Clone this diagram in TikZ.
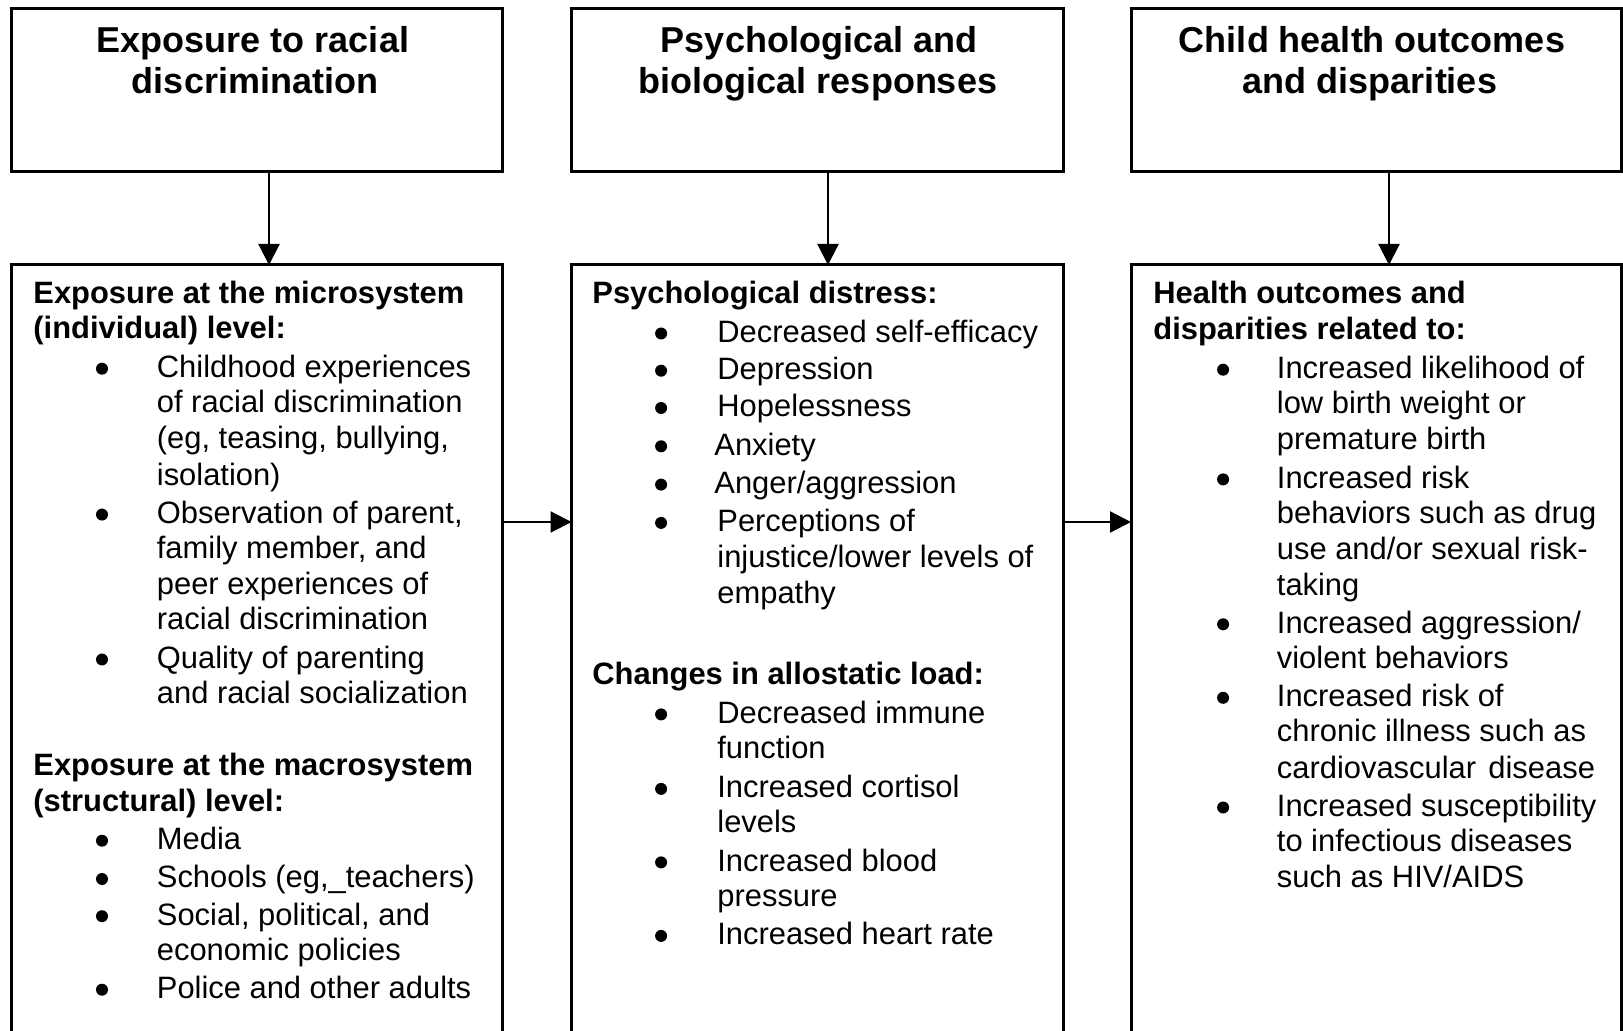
\documentclass[tikz,border=0pt]{standalone}
\usepackage{fontspec}
\setmainfont{Liberation Sans}
\usetikzlibrary{arrows.meta}
\begin{document}
\begin{tikzpicture}[x=0.5pt,y=-0.5pt,
  box/.style={draw, line width=1.5pt, inner sep=0pt, outer sep=0pt, anchor=north west},
  arr/.style={line width=1.1pt, -{Triangle[length=10.5pt,width=10.5pt]}},
  ttl/.style={inner sep=0pt, anchor=base, font=\fontsize{18pt}{20.7pt}\selectfont\bfseries},
  hd/.style={inner sep=0pt, anchor=base west, xshift=0.5pt, yshift=-0.5pt, font=\fontsize{15.45pt}{17.85pt}\selectfont\bfseries},
  tx/.style={inner sep=0pt, anchor=base west, xshift=0.5pt, yshift=-0.5pt, font=\fontsize{15.45pt}{17.85pt}\selectfont},
  bul/.style={circle, fill, inner sep=0pt, outer sep=0pt, minimum size=6pt, xshift=0.3pt, yshift=3.9pt},
]
\useasboundingbox (0,0) rectangle (1623,1031);

% top boxes
\node[box, minimum width=245.3pt, minimum height=81.3pt] (t1) at (11.5,8.5) {};
\node[box, minimum width=245.8pt, minimum height=81.3pt] (t2) at (571.5,8.5) {};
\node[box, minimum width=245.2pt, minimum height=81.3pt] (t3) at (1131,8.5) {};
% bottom boxes (run past the lower edge)
\node[box, minimum width=245.3pt, minimum height=450pt] (b1) at (11.5,265) {};
\node[box, minimum width=245.8pt, minimum height=450pt] (b2) at (571.5,265) {};
\node[box, minimum width=245.2pt, minimum height=450pt] (b3) at (1131,265) {};

% titles
\node[ttl] (h11) at (253,53) {Exposure to racial};
\node[ttl] (h12) at (255,94) {discrimination};
\node[ttl] (h21) at (819,53) {Psychological and};
\node[ttl] (h22) at (818,94) {biological responses};
\node[ttl] (h31) at (1372,53) {Child health outcomes};
\node[ttl] (h32) at (1370,94) {and disparities};

% connectors
\draw[arr] ([xshift=6.1pt]t1.south) -- ([xshift=6.1pt]b1.north);
\draw[arr] ([xshift=5.35pt]t2.south) -- ([xshift=5.35pt]b2.north);
\draw[arr] ([xshift=6.4pt]t3.south) -- ([xshift=6.4pt]b3.north);
\coordinate (hy) at (0,522);
\draw[arr] (b1.east |- hy) -- (b2.west |- hy);
\draw[arr] (b2.east |- hy) -- (b3.west |- hy);

% box 1 text
\node[hd] (a1) at (32,303) {Exposure at the microsystem};
\node[hd] (a2) at (32,338) {(individual) level:};
\node[bul] (ab1) at (101.4,376.5) {};
\node[tx] (a3) at (155.5,376.5) {Childhood experiences};
\node[tx] (a4) at (155.5,411.7) {of racial discrimination};
\node[tx] (a5) at (155.5,447.9) {(eg, teasing, bullying,};
\node[tx] (a6) at (155.5,484.1) {isolation)};
\node[bul] (ab2) at (101.4,522.4) {};
\node[tx] (a7) at (155.5,522.4) {Observation of parent,};
\node[tx] (a8) at (155.5,557.6) {family member, and};
\node[tx] (a9) at (155.5,593.8) {peer experiences of};
\node[tx] (a10) at (155.5,629) {racial discrimination};
\node[bul] (ab3) at (101.4,667.3) {};
\node[tx] (a11) at (155.5,667.3) {Quality of parenting};
\node[tx] (a12) at (155.5,702.5) {and racial socialization};
\node[hd] (a13) at (32,775) {Exposure at the macrosystem};
\node[hd] (a14) at (32,810.2) {(structural) level:};
\node[bul] (ab4) at (101.4,848.5) {};
\node[tx] (a15) at (155.5,848.5) {Media};
\node[bul] (ab5) at (101.4,886.8) {};
\node[tx] (a16) at (155.5,886.8) {Schools (eg,\_teachers)};
\node[bul] (ab6) at (101.4,924) {};
\node[tx] (a17) at (155.5,924) {Social, political, and};
\node[tx] (a18) at (155.5,959.2) {economic policies};
\node[bul] (ab7) at (101.4,997.5) {};
\node[tx] (a19) at (155.5,997.5) {Police and other adults};

% box 2 text
\node[hd] (c1) at (591,303) {Psychological distress:};
\node[bul] (cb1) at (660.5,341.3) {};
\node[tx] (c2) at (716,341.3) {Decreased self-efficacy};
\node[bul] (cb2) at (660.5,378.5) {};
\node[tx] (c3) at (716,378.5) {Depression};
\node[bul] (cb3) at (660.5,415.8) {};
\node[tx] (c4) at (716,415.8) {Hopelessness};
\node[bul] (cb4) at (660.5,454.1) {};
\node[tx] (c5) at (713,454.1) {Anxiety};
\node[bul] (cb5) at (660.5,492.4) {};
\node[tx] (c6) at (713,492.4) {Anger/aggression};
\node[bul] (cb6) at (660.5,530.7) {};
\node[tx] (c7) at (716,530.7) {Perceptions of};
\node[tx] (c8) at (716,566.9) {injustice/lower levels of};
\node[tx] (c9) at (716,602.1) {empathy};
\node[hd] (c10) at (591,683.9) {Changes in allostatic load:};
\node[bul] (cb7) at (660.5,722.2) {};
\node[tx] (c11) at (716,722.2) {Decreased immune};
\node[tx] (c12) at (716,757.4) {function};
\node[bul] (cb8) at (660.5,796.7) {};
\node[tx] (c13) at (716,796.7) {Increased cortisol};
\node[tx] (c14) at (716,831.9) {levels};
\node[bul] (cb9) at (660.5,870.2) {};
\node[tx] (c15) at (716,870.2) {Increased blood};
\node[tx] (c16) at (716,905.4) {pressure};
\node[bul] (cb10) at (660.5,943.7) {};
\node[tx] (c17) at (716,943.7) {Increased heart rate};

% box 3 text
\node[hd] (d1) at (1152,303) {Health outcomes and};
\node[hd] (d2) at (1152,338.2) {disparities related to:};
\node[bul] (db1) at (1222.5,377.5) {};
\node[tx] (d3) at (1275.5,377.5) {Increased likelihood of};
\node[tx] (d4) at (1275.5,412.7) {low birth weight or};
\node[tx] (d5) at (1275.5,448.9) {premature birth};
\node[bul] (db2) at (1222.5,487.2) {};
\node[tx] (d6) at (1275.5,487.2) {Increased risk};
\node[tx] (d7) at (1275.5,522.4) {behaviors such as drug};
\node[tx] (d8) at (1275.5,558.6) {use and/or sexual risk-};
\node[tx] (d9) at (1275.5,594.9) {taking};
\node[bul] (db3) at (1222.5,632.1) {};
\node[tx] (d10) at (1275.5,632.1) {Increased aggression/};
\node[tx] (d11) at (1275.5,667.3) {violent behaviors};
\node[bul] (db4) at (1222.5,705.6) {};
\node[tx] (d12) at (1275.5,705.6) {Increased risk of};
\node[tx] (d13) at (1275.5,740.8) {chronic illness such as};
\node[tx] (d14) at (1275.5,777) {cardiovascular\hspace{0.4em}disease};
\node[bul] (db5) at (1222.5,815.3) {};
\node[tx] (d15) at (1275.5,815.3) {Increased susceptibility};
\node[tx] (d16) at (1275.5,850.5) {to infectious diseases};
\node[tx] (d17) at (1275.5,886.8) {such as HIV/AIDS};
\end{tikzpicture}
\end{document}
